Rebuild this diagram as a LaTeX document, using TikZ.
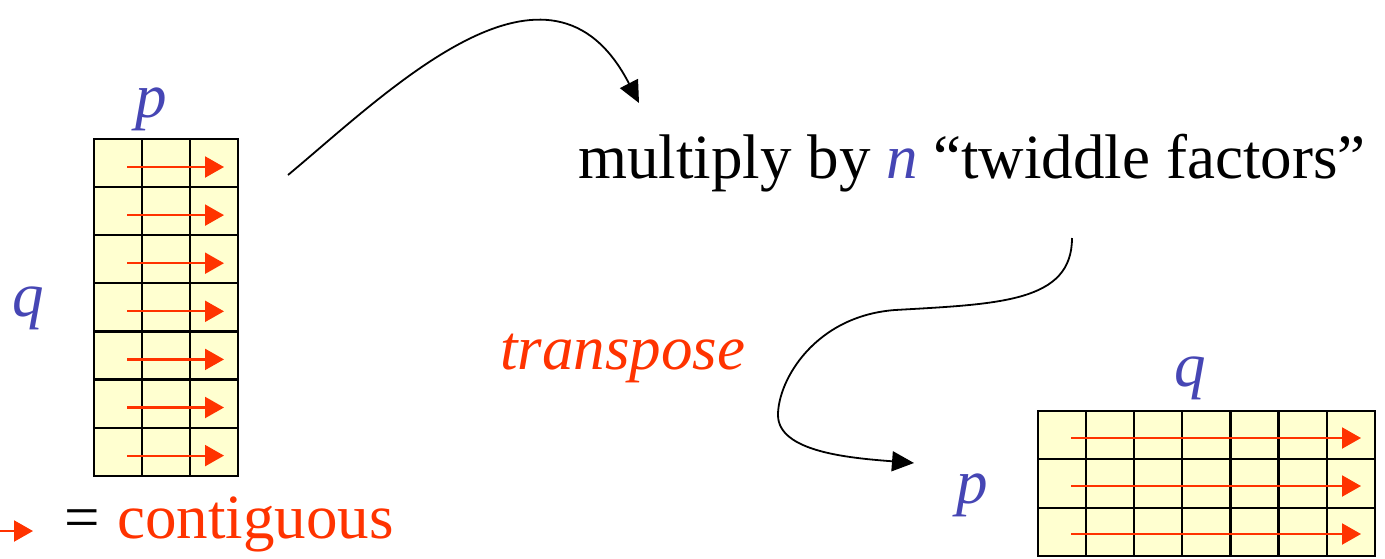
\documentclass[tikz,border=0pt]{standalone}
\usepackage{fontspec}
\setmainfont{Liberation Serif}
\usetikzlibrary{arrows.meta}
\definecolor{cellfill}{RGB}{255,255,208}
\definecolor{lblblue}{RGB}{70,70,180}
\definecolor{contred}{RGB}{255,51,0}
\tikzset{
  cellbox/.style={fill=cellfill,draw=black,line width=2.2pt},
  contarrow/.style={draw=contred,line width=2.2pt,-{Triangle[length=19pt,width=21pt]}},
  flow/.style={draw=black,line width=1.8pt,-{Triangle[length=22pt,width=20pt]}},
  bigtext/.style={font=\fontsize{63}{70}\selectfont,inner sep=0pt},
  varlbl/.style={bigtext,text=lblblue,font=\fontsize{63}{70}\selectfont\itshape},
}
\begin{document}
\begin{tikzpicture}[x=1pt,y=-1pt]
\useasboundingbox (0,0) rectangle (1385,558);
% left grid: 3 columns x 7 rows
\foreach \r in {0,...,6}{
  \foreach \c in {0,...,2}{
    \draw[cellbox] (94+48*\c,139+48.1*\r) rectangle ++(48,48.1);
  }
}
\foreach \r in {0,...,6}{
  \coordinate (ls\r) at (127,167+48.1*\r);
  \coordinate (le\r) at (224,167+48.1*\r);
  \draw[contarrow] (ls\r) -- (le\r);
}
% right grid: 7 columns x 3 rows
\foreach \r in {0,...,2}{
  \foreach \c in {0,...,6}{
    \draw[cellbox] (1038+48.1*\c,411+48.3*\r) rectangle ++(48.1,48.3);
  }
}
\foreach \r in {0,...,2}{
  \coordinate (rs\r) at (1071,438+48*\r);
  \coordinate (re\r) at (1361,438+48*\r);
  \draw[contarrow] (rs\r) -- (re\r);
}
% labels
\node[varlbl,anchor=base] (plt) at (151,117) {p};
\node[varlbl,anchor=base] (qlt) at (28,316) {q};
\node[varlbl,anchor=base] (qrt) at (1190,386) {q};
\node[varlbl,anchor=base] (prt) at (972,503) {p};
\node[bigtext,anchor=base west] (mult) at (578,178) {multiply by \textcolor{lblblue}{\itshape n} “twiddle factors”};
\node[bigtext,anchor=base west,text=contred,font=\fontsize{63}{70}\selectfont\itshape] (trans) at (500,369) {transpose};
\node[bigtext,anchor=base west] (eq) at (64,538) {=};
\node[bigtext,anchor=base west,text=contred] (contig) at (117,538) {contiguous};
% legend arrow
\coordinate (legs) at (0,531);
\coordinate (lege) at (33,531);
\draw[contarrow] (legs) -- (lege);
% flow curves
\coordinate (c1s) at (288,175);
\coordinate (c1e) at (639,103);
\draw[flow] (c1s) .. controls (390,90) and (550,-70) .. (c1e);
\coordinate (c2s) at (1072,238);
\coordinate (c2m) at (895,310);
\coordinate (c2n) at (778,415);
\coordinate (c2e) at (914,463);
\draw[flow] (c2s) .. controls (1072,302) and (1000,304) .. (c2m)
  .. controls (815,316) and (778,380) .. (c2n)
  .. controls (778,452) and (850,458) .. (c2e);
\end{tikzpicture}
\end{document}
